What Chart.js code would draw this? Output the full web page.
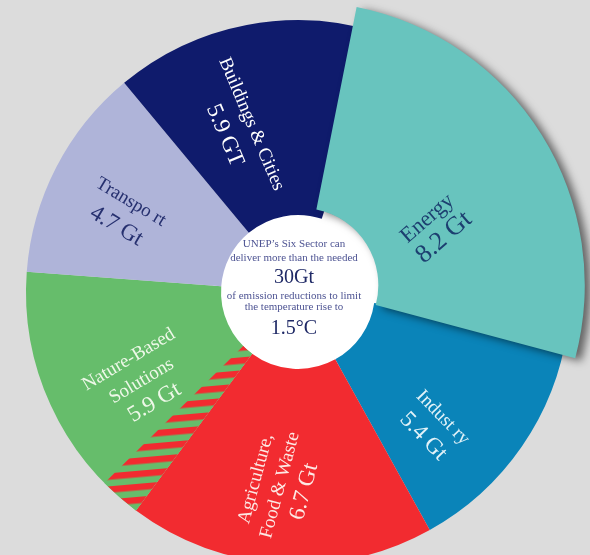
<!DOCTYPE html>
<html>
<head>
<meta charset="utf-8">
<script src="https://cdn.jsdelivr.net/npm/chart.js@4/dist/chart.umd.min.js"></script>
<style>
html,body{margin:0;padding:0;background:#dcdcdc;overflow:hidden;width:590px;height:555px;}
canvas{display:block;}
</style>
</head>
<body>
<canvas id="c" width="590" height="580" style="width:590px;height:580px"></canvas>
<script>
// ---- data ----
const sectors = ['Industry', 'Agriculture, Food & Waste', 'Nature-Based Solutions', 'Transport', 'Buildings & Cities', 'Energy'];
const reductionsGt = [5.4, 6.7, 5.9, 4.7, 5.9, 8.2];
const labelLines = [['Indust ry'], ['Agriculture,', 'Food & Waste'], ['Nature-Based', 'Solutions'], ['Transpo rt'], ['Buildings & Cities'], ['Energy']];
const valueUnits = ['Gt', 'Gt', 'Gt', 'Gt', 'GT', 'Gt'];
const natureAgricultureOverlapGt = 0.9;   // hatched share of the Nature-Based slice
const centreLines = ['UNEP\u2019s Six Sector can', 'deliver more than the needed', '30Gt', 'of emission reductions to limit', 'the temperature rise to', '1.5\u00B0C'];

// ---- styles ----
const colors = ['#0a84b9', '#f22b30', '#66bd6b', '#afb4d9', '#0f1b6c', '#68c4be'];
const ENERGY = 5, NATURE = 2;
// highlighted (pulled-out, magnified) Energy slice
const energyStyle = {angleScale: 1.168, radiusScale: 1.042, along: 6.5, across: -4.1};
const labelStyle = [
  {dA: 10.4, r: 191, rot: 46,  name: 19, val: 23, step: 27, color: '#e2f2f8'},
  {dA: 1.5,  r: 194, rot: -75, name: 19, val: 23, step: 25, color: '#fde9e5'},
  {dA: -5.1, r: 180, rot: -31, name: 19, val: 23, step: 25, color: '#eef8e8'},
  {dA: -3.2, r: 191, rot: 31,  name: 19, val: 23, step: 28, color: '#26306f'},
  {dA: -9.4, r: 173, rot: 67,  name: 19, val: 23, step: 29, color: '#ffffff'},
  {dA: 8.9,  r: 146, rot: -41, name: 22, val: 26, step: 25, color: '#1c3f70'}
];
const centreStyle = [
  {size: 11, dy: -48, color: '#4d5392'},
  {size: 11, dy: -34, color: '#4d5392'},
  {size: 20, dy: -14, color: '#1f2966'},
  {size: 11, dy: 4,   color: '#4d5392'},
  {size: 11, dy: 15,  color: '#4d5392'},
  {size: 20, dy: 37,  color: '#1f2966'}
];
const FONT = '"Liberation Serif", "DejaVu Serif", serif';
const deg = Math.PI / 180;

function energyShift(mid) {
  return {
    x: Math.cos(mid) * energyStyle.along - Math.sin(mid) * energyStyle.across,
    y: Math.sin(mid) * energyStyle.along + Math.cos(mid) * energyStyle.across
  };
}

function stripePattern(ctx) {
  const c = document.createElement('canvas');
  c.width = 16; c.height = 13;
  const g = c.getContext('2d');
  g.fillStyle = '#66bd6b'; g.fillRect(0, 0, 16, 13);
  g.fillStyle = '#f22b30'; g.fillRect(0, 0, 16, 6.5);
  const p = ctx.createPattern(c, 'repeat');
  if (p.setTransform) p.setTransform(new DOMMatrix().rotateSelf(-5));
  return p;
}

const sectorPlugin = {
  id: 'sectorPlugin',
  beforeDatasetsDraw(chart) {
    const a = chart.getDatasetMeta(0).data[0];
    const ctx = chart.ctx;
    ctx.save();
    ctx.fillStyle = '#ffffff';
    ctx.beginPath();
    ctx.arc(a.x, a.y, a.innerRadius + 8, 0, 2 * Math.PI);
    ctx.fill();
    ctx.restore();
  },
  afterDatasetUpdate(chart) {
    const e = chart.getDatasetMeta(0).data[ENERGY];
    const proto = Object.getPrototypeOf(e);
    e.draw = function (ctx, area) {
      const s = this.startAngle, en = this.endAngle, ro = this.outerRadius, c = this.circumference;
      const mid = (s + en) / 2, half = (en - s) / 2 * energyStyle.angleScale;
      const sh = energyShift(mid);
      ctx.save();
      ctx.translate(sh.x, sh.y);
      ctx.shadowColor = 'rgba(0,0,0,0.55)';
      ctx.shadowBlur = 9; ctx.shadowOffsetX = 6; ctx.shadowOffsetY = 3;
      this.startAngle = mid - half; this.endAngle = mid + half;
      this.circumference = 2 * half; this.outerRadius = ro * energyStyle.radiusScale;
      proto.draw.call(this, ctx, area);
      this.startAngle = s; this.endAngle = en; this.circumference = c; this.outerRadius = ro;
      ctx.restore();
    };
  },
  afterDatasetsDraw(chart) {
    const ctx = chart.ctx;
    const meta = chart.getDatasetMeta(0);
    const total = reductionsGt.reduce((p, v) => p + v, 0);

    // hatched overlap on the Nature-Based slice
    const n = meta.data[NATURE];
    const a0 = n.startAngle, a1 = a0 + natureAgricultureOverlapGt / total * 2 * Math.PI;
    ctx.save();
    ctx.beginPath();
    ctx.arc(n.x, n.y, n.outerRadius, a0, a1);
    ctx.arc(n.x, n.y, n.innerRadius, a1, a0, true);
    ctx.closePath();
    ctx.fillStyle = stripePattern(ctx);
    ctx.fill();
    ctx.restore();

    // sector labels
    meta.data.forEach((a, i) => {
      const st = labelStyle[i];
      let cx = a.x, cy = a.y;
      const mid = (a.startAngle + a.endAngle) / 2;
      if (i === ENERGY) { const sh = energyShift(mid); cx += sh.x; cy += sh.y; }
      const ang = mid + st.dA * deg;
      const px = cx + Math.cos(ang) * st.r, py = cy + Math.sin(ang) * st.r;
      const lines = labelLines[i].map(t => ({t, size: st.name}));
      lines.push({t: reductionsGt[i].toFixed(1) + ' ' + valueUnits[i], size: st.val});
      ctx.save();
      ctx.translate(px, py);
      ctx.rotate(st.rot * deg);
      ctx.fillStyle = st.color;
      ctx.textAlign = 'center';
      ctx.textBaseline = 'middle';
      lines.forEach((l, k) => {
        ctx.font = l.size + 'px ' + FONT;
        ctx.fillText(l.t, 0, (k - (lines.length - 1) / 2) * st.step);
      });
      ctx.restore();
    });

    // centre text
    const c0 = meta.data[0];
    ctx.save();
    ctx.textAlign = 'center';
    ctx.textBaseline = 'middle';
    centreLines.forEach((t, k) => {
      const st = centreStyle[k];
      ctx.font = st.size + 'px ' + FONT;
      ctx.fillStyle = st.color;
      ctx.fillText(t, c0.x - 4, c0.y + st.dy);
    });
    ctx.restore();
  }
};

new Chart(document.getElementById('c'), {
  type: 'doughnut',
  data: {
    labels: sectors,
    datasets: [{data: reductionsGt, backgroundColor: colors, borderWidth: 0}]
  },
  options: {
    responsive: false,
    animation: false,
    events: [],
    rotation: 98.2,
    cutout: '28.3%',
    radius: 272,
    layout: {padding: {top: 20, bottom: 16, left: 26, right: 20}},
    plugins: {legend: {display: false}, tooltip: {enabled: false}}
  },
  plugins: [sectorPlugin]
});
</script>
</body>
</html>
